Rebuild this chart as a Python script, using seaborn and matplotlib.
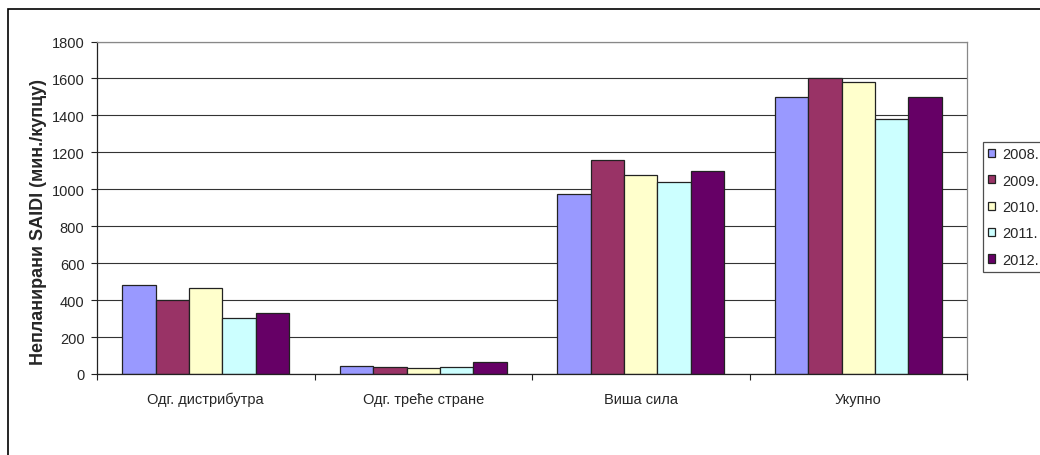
import matplotlib
matplotlib.use("Agg")
import matplotlib.pyplot as plt
import seaborn as sns
import pandas as pd
from matplotlib.patches import Rectangle
from matplotlib.ticker import FixedLocator

categories = ["Одг. дистрибутра", "Одг. треће стране", "Виша сила", "Укупно"]
years = ["2008.", "2009.", "2010.", "2011.", "2012."]
v2008 = [481, 45, 975, 1498]
v2009 = [398, 37, 1160, 1600]
v2010 = [466, 32, 1080, 1580]
v2011 = [302, 37, 1040, 1378]
v2012 = [330, 63, 1100, 1498]
colors = ["#9999FF", "#993366", "#FFFFCC", "#CCFFFF", "#660066"]

rows = []
for y, vals in zip(years, [v2008, v2009, v2010, v2011, v2012]):
    for c, v in zip(categories, vals):
        rows.append({"cat": c, "year": y, "val": v})
df = pd.DataFrame(rows)

sns.set_theme(style="white")
plt.rcParams["font.family"] = ["Liberation Sans", "DejaVu Sans"]

fig = plt.figure(figsize=(10.4, 4.56), dpi=100)
ax = fig.add_axes([97/1040, 1-375/456, (967-97)/1040, (375-42.5)/456])

sns.barplot(data=df, x="cat", y="val", hue="year", order=categories,
            hue_order=years, palette=colors, width=0.77, saturation=1,
            edgecolor="#222222", linewidth=0.9, ax=ax, legend=True)

ax.set_ylim(0, 1800)
ax.set_xlim(-0.5, 3.5)
ax.set_yticks(range(0, 1801, 200))
ax.yaxis.grid(True, color="#333333", linewidth=0.8)
ax.set_axisbelow(True)
ax.set_xlabel("")
ax.set_ylabel("Непланирани SAIDI (мин./купцу)", fontsize=13, fontweight="bold")
ax.yaxis.set_label_coords(-0.058, 0.46)
ax.tick_params(axis="y", labelsize=10.5, length=4, width=0.8, color="#222222", left=True, pad=5)
ax.tick_params(axis="x", which="major", labelsize=10.5, length=0, pad=13)
ax.xaxis.set_minor_locator(FixedLocator([-0.5, 0.5, 1.5, 2.5, 3.5]))
ax.tick_params(axis="x", which="minor", length=4, width=0.8, color="#222222", bottom=True, direction="out")
for s in ["left", "bottom"]:
    ax.spines[s].set_color("#222222")
    ax.spines[s].set_linewidth(0.9)
for s in ["top", "right"]:
    ax.spines[s].set_color("#888888")
    ax.spines[s].set_linewidth(0.9)

h, l = ax.get_legend_handles_labels()
ax.legend_.remove()
leg = fig.legend(h, l, loc="upper left", bbox_to_anchor=(983/1040, 1-143/456),
                 frameon=True, fancybox=False, fontsize=10.5, handlelength=0.5,
                 handleheight=0.5, handletextpad=0.5, labelspacing=0.85,
                 borderpad=0.35, borderaxespad=0)
leg.get_frame().set_edgecolor("#222222")
leg.get_frame().set_linewidth(0.9)

fig.patches.append(Rectangle((8/1040, -0.1), 1.2, 1-10/456+0.1, transform=fig.transFigure,
                             fill=False, edgecolor="black", linewidth=1.2, zorder=0))

fig.savefig("out.png", dpi=100)
